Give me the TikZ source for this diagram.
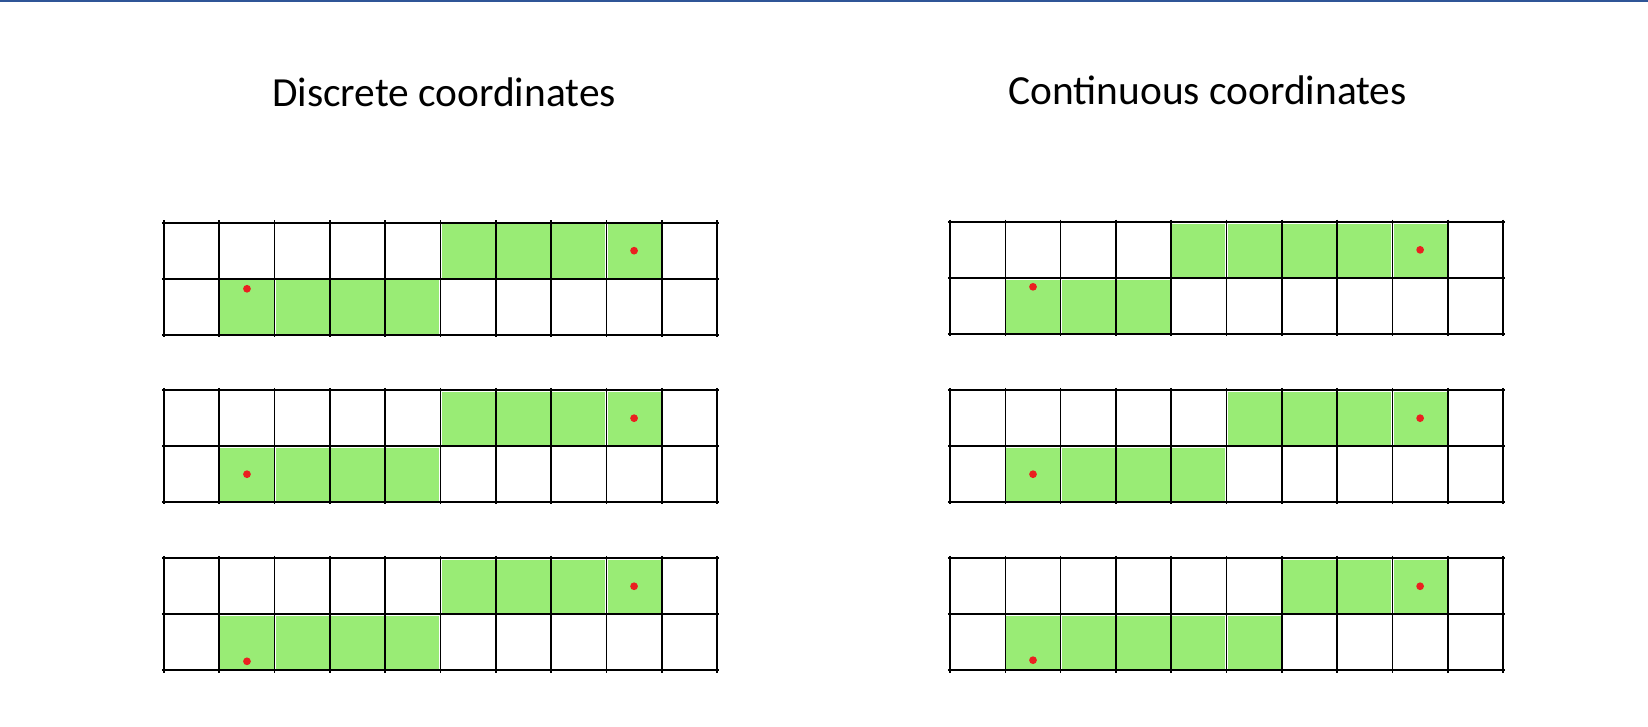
\documentclass[tikz,border=0pt]{standalone}
\usepackage{fontspec}
\setmainfont{Carlito}
\usetikzlibrary{positioning}
\definecolor{cellgreen}{RGB}{153,236,117}
\definecolor{dotred}{RGB}{234,32,32}
\definecolor{rulerblue}{RGB}{47,85,151}
\tikzset{
  title/.style={font=\fontsize{21.3}{25}\selectfont, anchor=base, inner sep=0pt},
  gridline/.style={draw=black, line width=0.85pt},
  greencell/.style={fill=cellgreen},
  reddot/.style={circle, fill=dotred, inner sep=0pt, minimum size=0.14cm},
}
% one strip of 2 x 10 cells: x, y, green cells on top, green cells below, name, height of the lower dot
\newcommand{\stripgrid}[6]{%
  \begin{scope}[shift={(#1,#2)}]
    \foreach \c in {#3} \fill[greencell] (\c+0.02,0.03) rectangle (\c+0.98,0.98);
    \foreach \c in {#4} \fill[greencell] (\c+0.02,1.03) rectangle (\c+0.98,1.98);
    \foreach \c in {0,...,10} \draw[gridline] (\c,-0.04) -- (\c,2.04);
    \foreach \r in {0,1,2} \draw[gridline] (-0.04,\r) -- (10.04,\r);
    \node[reddot] (#5-start) at (1.5,1+#6) {};
    \node[reddot] (#5-goal) at (8.5,0.5) {};
  \end{scope}}

\begin{document}
\begin{tikzpicture}[x=1cm, y=-1.013cm]
  \useasboundingbox (0,0) rectangle (29.801,12.964);
  \fill[rulerblue] (0,0) rectangle (29.801,0.035);

  \node[title] (discrete-title) at (8.03,1.91) {Discrete coordinates};
  \node[title] (continuous-title) at (21.84,1.86) {Continuous coordinates};

  % discrete
  \stripgrid{2.966}{3.975}{5,...,8}{1,...,4}{dl1}{0.18}
  \stripgrid{2.966}{6.965}{5,...,8}{1,...,4}{dl2}{0.5}
  \stripgrid{2.966}{9.965}{5,...,8}{1,...,4}{dl3}{0.84}

  % continuous
  \stripgrid{17.18}{3.96}{4,...,8}{1,2,3}{cn1}{0.16}
  \stripgrid{17.18}{6.965}{5,...,8}{1,...,4}{cn2}{0.5}
  \stripgrid{17.18}{9.965}{6,7,8}{1,...,5}{cn3}{0.82}
\end{tikzpicture}
\end{document}
